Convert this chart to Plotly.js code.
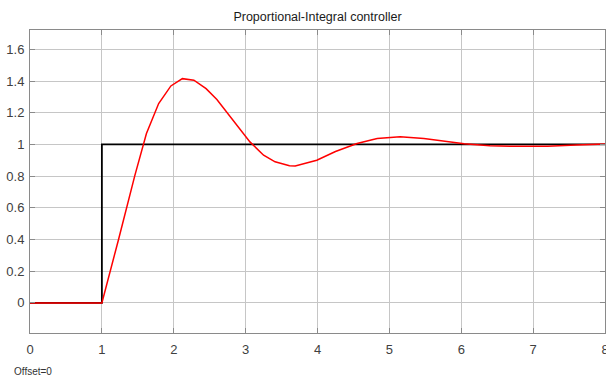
<!DOCTYPE html>
<html>
<head>
<meta charset="utf-8">
<script src="https://cdn.plot.ly/plotly-3.0.1.min.js"></script>
<style>html,body{margin:0;padding:0;background:#fff;}#chart{width:606px;height:378px;}</style>
</head>
<body>
<div id="chart"></div>
<script>
const stepT = [0, 1, 1, 8];
const stepY = [0, 0, 1, 1];
const respT = [0, 1.0, 1.23, 1.46, 1.62, 1.79, 1.96, 2.12, 2.28, 2.45, 2.60, 2.83, 3.06, 3.25, 3.41, 3.61, 3.69, 3.99, 4.25, 4.55, 4.83, 5.15, 5.48, 6.04, 6.4, 6.73, 7.2, 7.6, 8.0];
const respY = [0, 0, 0.397, 0.806, 1.069, 1.258, 1.369, 1.415, 1.405, 1.352, 1.283, 1.153, 1.016, 0.932, 0.89, 0.866, 0.864, 0.90, 0.955, 1.006, 1.037, 1.048, 1.037, 1.004, 0.992, 0.988, 0.989, 0.996, 1.003];
const xTicks = [0, 1, 2, 3, 4, 5, 6, 7, 8];
const yTicks = [0, 0.2, 0.4, 0.6, 0.8, 1, 1.2, 1.4, 1.6];
const titleText = 'Proportional-Integral controller';
const offsetText = 'Offset=0';

const fontFam = '"Liberation Sans Narrow", "Arial Narrow", Arial, sans-serif';

const traces = [
  {x: stepT, y: stepY, type: 'scatter', mode: 'lines', line: {color: '#000000', width: 1.8}, hoverinfo: 'skip'},
  {x: respT, y: respY, type: 'scatter', mode: 'lines', line: {color: '#ff0000', width: 1.5}, hoverinfo: 'skip'}
];

const axisCommon = {
  showgrid: true, gridcolor: '#c6c6c6', gridwidth: 1,
  zeroline: false,
  showline: true, linecolor: '#8a8a8a', linewidth: 1,
  mirror: 'ticks', ticks: 'inside', ticklen: 5, tickcolor: '#8a8a8a',
  ticklabeloverflow: 'allow',
  tickfont: {family: fontFam, size: 13, color: '#404040'}
};

const layout = {
  width: 606, height: 378,
  paper_bgcolor: '#ffffff', plot_bgcolor: '#ffffff',
  margin: {l: 30, r: 1, t: 30, b: 45},
  showlegend: false,
  title: {text: titleText, font: {family: fontFam, size: 12.5, color: '#1a1a1a'}, x: 0.5, xanchor: 'center', y: 0.955, yanchor: 'middle', xref: 'paper'},
  xaxis: Object.assign({}, axisCommon, {range: [0, 8], tickvals: xTicks, ticktext: xTicks.map(String), ticklabelstandoff: 4}),
  yaxis: Object.assign({}, axisCommon, {range: [-0.19, 1.722], tickvals: yTicks, ticktext: yTicks.map(String), ticklabelstandoff: 2}),
  annotations: [{
    text: offsetText, xref: 'paper', yref: 'paper', x: -0.032, y: -0.128,
    xanchor: 'left', yanchor: 'middle', showarrow: false,
    font: {family: fontFam, size: 10, color: '#333333'}
  }]
};

Plotly.newPlot('chart', traces, layout, {staticPlot: true, displayModeBar: false});
</script>
</body>
</html>
